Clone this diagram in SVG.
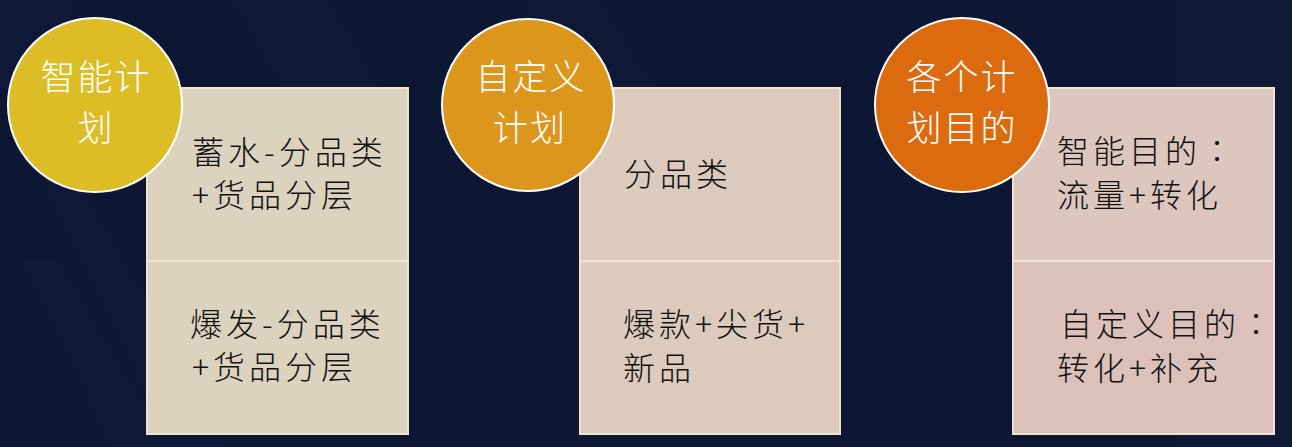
<svg xmlns="http://www.w3.org/2000/svg" width="1292" height="447" viewBox="0 0 1292 447">
<style>
.bg{fill:#0d1733}
.band{fill:#111b3a;opacity:0.6}
.box{stroke:#f0e4cf;stroke-width:2}
.div{stroke:#f0e4cf;stroke-width:2}
.circ{stroke:#ffffff;stroke-width:2}
.ct{font-family:"Noto Sans CJK SC","Noto Sans CJK TC",sans-serif;font-size:35px;fill:#ffffff;text-anchor:middle;letter-spacing:2px;font-weight:300}
.bt{font-family:"Noto Sans CJK SC","Noto Sans CJK TC",sans-serif;font-size:32px;fill:#111111;letter-spacing:4px;font-weight:300}
.tc{font-family:"Noto Sans CJK TC",sans-serif}
</style>
<rect class="bg" x="0" y="0" width="1292" height="447"/>
<g id="background">
<polygon class="band" points="20,260 60,260 170,447 110,447"/>
<polygon class="band" points="40,180 80,180 230,447 170,447"/>
<polygon class="band" points="230,0 330,0 400,120 300,120"/>
<polygon class="band" points="520,0 600,0 700,160 620,160"/>
<rect class="band" x="0" y="0" width="70" height="90" opacity="0.3"/>
<rect class="band" x="1180" y="0" width="112" height="447" opacity="0.25"/>
</g>
<g id="node1">
<rect class="box" x="147" y="88" width="261" height="346" fill="#dcd3bf"/>
<line class="div" x1="147" y1="261" x2="408" y2="261"/>
<text class="bt" x="192" y="164">蓄水-分品类</text>
<text class="bt" x="192" y="207">+货品分层</text>
<text class="bt" x="190" y="336">爆发-分品类</text>
<text class="bt" x="192" y="379">+货品分层</text>
<circle class="circ" cx="95" cy="105" r="87" fill="#dcbd26"/>
<text class="ct" x="96" y="90">智能计</text>
<text class="ct" x="96" y="141">划</text>
</g>
<g id="node2">
<rect class="box" x="580" y="88" width="260" height="346" fill="#dccbbc"/>
<line class="div" x1="580" y1="261" x2="840" y2="261"/>
<text class="bt" x="624" y="186">分品类</text>
<text class="bt" x="623" y="336">爆款+尖货+</text>
<text class="bt" x="623" y="380">新品</text>
<circle class="circ" cx="528" cy="105" r="86" fill="#dc961c"/>
<text class="ct" x="531" y="90">自定义</text>
<text class="ct" x="530" y="141">计划</text>
</g>
<g id="node3">
<rect class="box" x="1013" y="88" width="261" height="346" fill="#dcc6bd"/>
<rect x="1014" y="262" width="259" height="171" fill="#dcc1bb"/>
<line class="div" x1="1013" y1="261" x2="1274" y2="261"/>
<text class="bt" x="1057" y="163">智能目的<tspan class="tc">：</tspan></text>
<text class="bt" x="1057" y="207">流量+转化</text>
<text class="bt" x="1060" y="336">自定义目的<tspan class="tc">：</tspan></text>
<text class="bt" x="1057" y="380">转化+补充</text>
<circle class="circ" cx="962" cy="105" r="87" fill="#dc6b10"/>
<text class="ct" x="962" y="90">各个计</text>
<text class="ct" x="962" y="141">划目的</text>
</g>
<g id="connectors"></g>
</svg>
